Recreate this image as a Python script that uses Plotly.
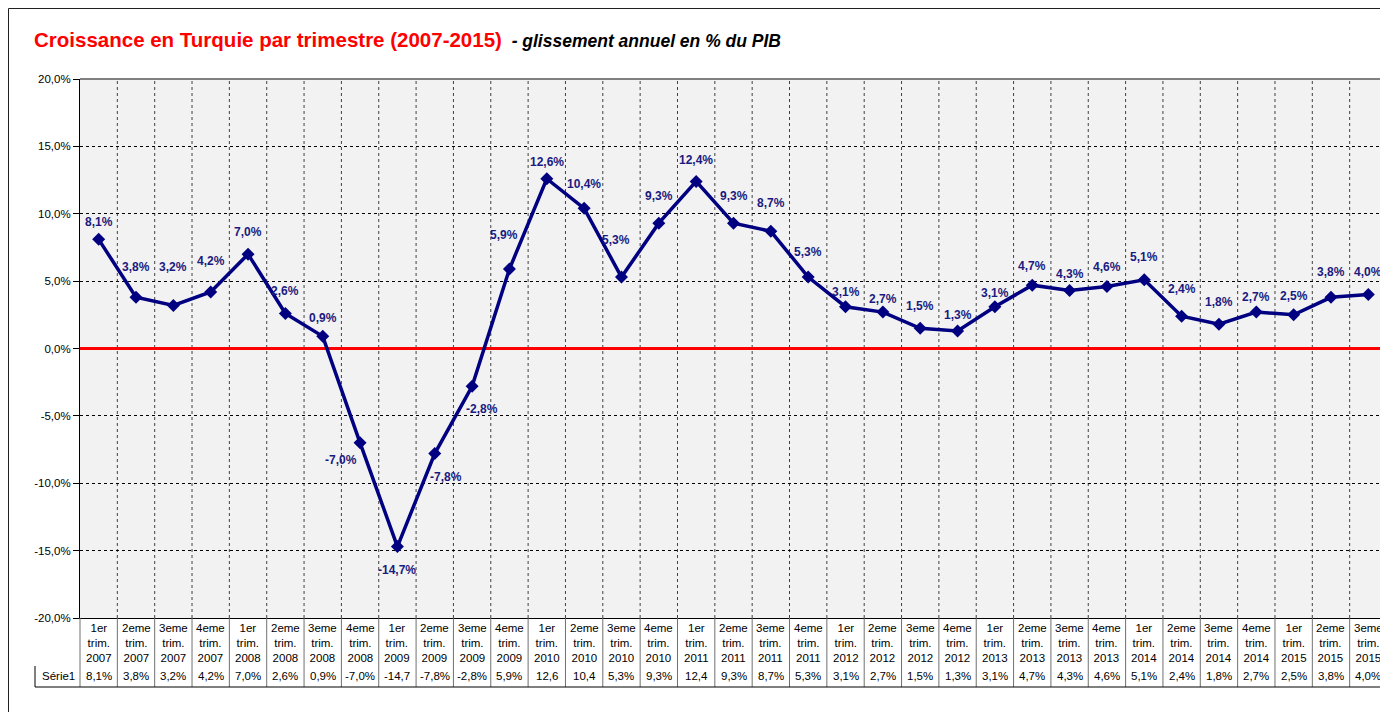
import plotly.graph_objects as go

# ---------------- data ----------------
quarters = ["1er", "2eme", "3eme", "4eme"]
years = [2007, 2008, 2009, 2010, 2011, 2012, 2013, 2014, 2015]
cat_quarter = (quarters * 9)[:35]
cat_year = [y for y in years for _ in range(4)][:35]
growth = [8.1, 3.8, 3.2, 4.2, 7.0, 2.6, 0.9, -7.0, -14.7, -7.8, -2.8, 5.9,
          12.6, 10.4, 5.3, 9.3, 12.4, 9.3, 8.7, 5.3, 3.1, 2.7, 1.5, 1.3,
          3.1, 4.7, 4.3, 4.6, 5.1, 2.4, 1.8, 2.7, 2.5, 3.8, 4.0]
table_text = ["8,1%", "3,8%", "3,2%", "4,2%", "7,0%", "2,6%", "0,9%", "-7,0%", "-14,7",
              "-7,8%", "-2,8%", "5,9%", "12,6", "10,4", "5,3%", "9,3%", "12,4", "9,3%",
              "8,7%", "5,3%", "3,1%", "2,7%", "1,5%", "1,3%", "3,1%", "4,7%", "4,3%",
              "4,6%", "5,1%", "2,4%", "1,8%", "2,7%", "2,5%", "3,8%", "4,0%"]
y_ticks = [-20, -15, -10, -5, 0, 5, 10, 15, 20]
series_name = "Série1"

# label offsets (style, pixels)
label_dy = [17, 30, 38, 31, 22, 22, 18, -17, -23, -23, -23, 34, 17, 24, 37, 27, 21, 27,
            28, 25, 15, 13, 22, 16, 14, 19, 17, 20, 23, 27, 22, 15, 19, 25, 23]
label_dx = [0] * 35
label_dx[7] = -19
label_dx[9] = 11
label_dx[10] = 10
label_dx[11] = -5
label_dx[14] = -5

def fmt(v):
    return ("%.1f%%" % v).replace(".", ",")

# page has an 8px body margin: work in screen pixels, convert to figure pixels
OFF = 8
W, H = 1380, 704
L, R, T, B = 80 - OFF, 1387 - OFF, 79 - OFF, 618 - OFF
n = len(growth)

def py(p):
    return (B - (p - OFF)) / (B - T)

def px(p):
    return ((p - OFF) - L) / (R - L)

FONT = "Liberation Sans, Arial, sans-serif"
NAVY = "#000080"

fig = go.Figure()
fig.add_trace(go.Scatter(
    x=list(range(n)), y=growth, mode="lines+markers",
    line=dict(color=NAVY, width=3.5),
    marker=dict(symbol="diamond", size=10, color=NAVY),
    name=series_name, showlegend=False, hoverinfo="y"))

ann = []
for i, v in enumerate(growth):
    ann.append(dict(x=i, y=v, xref="x", yref="y", text="<b>%s</b>" % fmt(v),
                    showarrow=False, xshift=label_dx[i], yshift=label_dy[i],
                    font=dict(family=FONT, size=12, color="#1a1a80")))

# title
ann.append(dict(x=px(32), y=py(40), xref="paper", yref="paper", xanchor="left", yanchor="middle",
                showarrow=False,
                text="<span style='color:#ff0000;font-size:20.5px'><b>Croissance en Turquie par trimestre (2007-2015)</b></span>"
                     "<span style='color:#000000;font-size:17.5px'><b><i>  - glissement annuel en % du PIB</i></b></span>",
                font=dict(family=FONT, size=18, color="#000")))

# data table
for i in range(n):
    ann.append(dict(x=i, y=py(620), xref="x", yref="paper", xanchor="center", yanchor="top",
                    showarrow=False, align="center",
                    text="%s<br>trim.<br>%d" % (cat_quarter[i], cat_year[i]),
                    font=dict(family=FONT, size=11.5, color="#000")))
    ann.append(dict(x=i, y=py(676), xref="x", yref="paper", xanchor="center", yanchor="middle",
                    showarrow=False, text=table_text[i],
                    font=dict(family=FONT, size=11.5, color="#000")))
ann.append(dict(x=px(58), y=py(676), xref="paper", yref="paper", xanchor="center", yanchor="middle",
                showarrow=False, text=series_name, font=dict(family=FONT, size=11.5, color="#000")))

shapes = []
# vertical dotted gridlines at category boundaries
for i in range(n - 1):
    shapes.append(dict(type="line", xref="x", yref="paper", x0=i + 0.5, x1=i + 0.5, y0=0, y1=1,
                       line=dict(color="#404040", width=1, dash="dot"), layer="below"))
# plot top border
shapes.append(dict(type="line", xref="paper", yref="paper", x0=0, x1=1, y0=1, y1=1,
                   line=dict(color="#808080", width=2)))
# table lines
for i in range(n + 1):
    shapes.append(dict(type="line", xref="paper", yref="paper", x0=i / n, x1=i / n,
                       y0=py(618), y1=py(687), line=dict(color="#707070", width=1)))
shapes.append(dict(type="line", xref="paper", yref="paper", x0=px(35), x1=1,
                   y0=py(687), y1=py(687), line=dict(color="#000", width=1)))
shapes.append(dict(type="line", xref="paper", yref="paper", x0=px(35), x1=px(35),
                   y0=py(666), y1=py(687), line=dict(color="#000", width=1)))
# outer chart frame
shapes.append(dict(type="rect", xref="paper", yref="paper", x0=px(8.5), x1=px(1400),
                   y0=py(730), y1=py(8.5), line=dict(color="#202020", width=1),
                   fillcolor="rgba(0,0,0,0)"))

fig.update_layout(
    width=W, height=H,
    margin=dict(l=L, r=W - R, t=T, b=H - B, pad=0),
    paper_bgcolor="white", plot_bgcolor="#f2f2f2",
    font=dict(family=FONT, size=11, color="#000"),
    annotations=ann, shapes=shapes, showlegend=False,
    xaxis=dict(range=[-0.5, n - 0.5], showticklabels=False, showgrid=False, zeroline=False,
               showline=True, linecolor="#000", linewidth=1, ticks="", fixedrange=True),
    yaxis=dict(range=[-20, 20], tickvals=y_ticks, ticktext=[fmt(v) for v in y_ticks],
               showgrid=True, gridcolor="#000", gridwidth=1, griddash="dot",
               zeroline=True, zerolinecolor="#ff0000", zerolinewidth=3,
               showline=True, linecolor="#000", linewidth=1,
               ticks="outside", ticklen=6, tickcolor="#000",
               tickfont=dict(family=FONT, size=11.5, color="#000"), fixedrange=True),
)

fig.write_html("out.html")
